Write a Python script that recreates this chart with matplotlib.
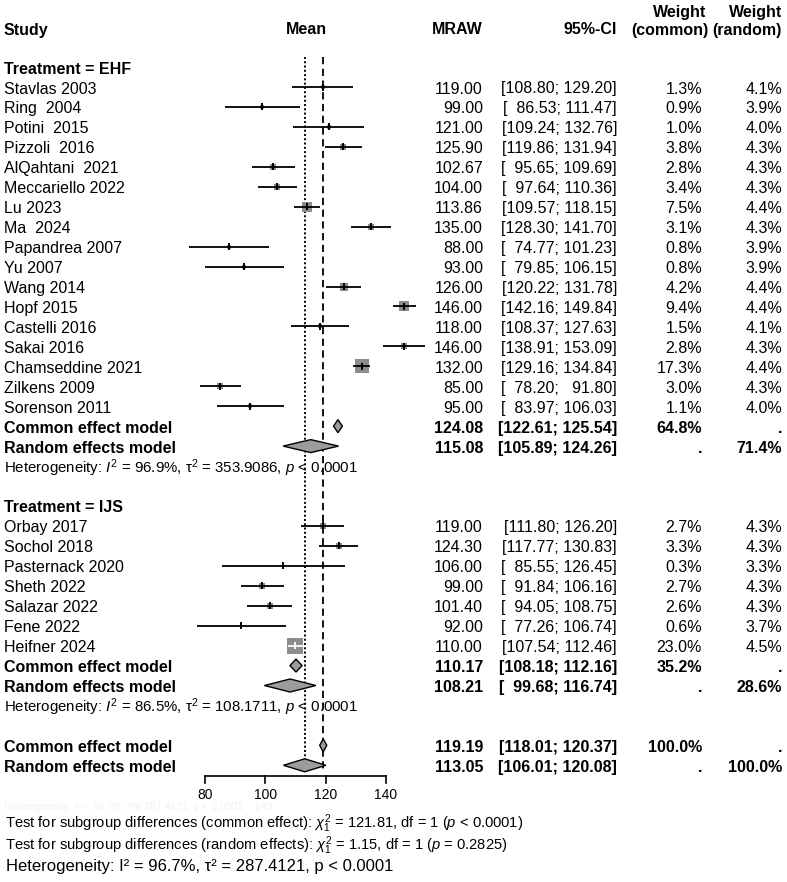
import matplotlib
matplotlib.use("agg")
import matplotlib.pyplot as plt
from matplotlib.patches import Polygon
import numpy as np

plt.rcParams["font.family"] = ["Liberation Sans", "DejaVu Sans"]
plt.rcParams["mathtext.fontset"] = "custom"
plt.rcParams["mathtext.rm"] = "Liberation Sans"
plt.rcParams["mathtext.it"] = "Liberation Sans:italic"
plt.rcParams["mathtext.bf"] = "Liberation Sans:bold"

# ---- data ----
ehf_names = ["Stavlas 2003", "Ring  2004", "Potini  2015", "Pizzoli  2016", "AlQahtani  2021",
             "Meccariello 2022", "Lu 2023", "Ma  2024", "Papandrea 2007", "Yu 2007", "Wang 2014",
             "Hopf 2015", "Castelli 2016", "Sakai 2016", "Chamseddine 2021", "Zilkens 2009",
             "Sorenson 2011"]
ehf_mean = [119.00, 99.00, 121.00, 125.90, 102.67, 104.00, 113.86, 135.00, 88.00, 93.00,
            126.00, 146.00, 118.00, 146.00, 132.00, 85.00, 95.00]
ehf_lower = [108.80, 86.53, 109.24, 119.86, 95.65, 97.64, 109.57, 128.30, 74.77, 79.85,
             120.22, 142.16, 108.37, 138.91, 129.16, 78.20, 83.97]
ehf_upper = [129.20, 111.47, 132.76, 131.94, 109.69, 110.36, 118.15, 141.70, 101.23, 106.15,
             131.78, 149.84, 127.63, 153.09, 134.84, 91.80, 106.03]
ehf_w_common = [1.3, 0.9, 1.0, 3.8, 2.8, 3.4, 7.5, 3.1, 0.8, 0.8, 4.2, 9.4, 1.5, 2.8, 17.3, 3.0, 1.1]
ehf_w_random = [4.1, 3.9, 4.0, 4.3, 4.3, 4.3, 4.4, 4.3, 3.9, 3.9, 4.4, 4.4, 4.1, 4.3, 4.4, 4.3, 4.0]
ehf_common = [124.08, 122.61, 125.54, 64.8, None]
ehf_random = [115.08, 105.89, 124.26, None, 71.4]
ehf_het = r"Heterogeneity: $I^2$ = 96.9%, $\mathrm{\tau}^2$ = 353.9086, $p$ < 0.0001"

ijs_names = ["Orbay 2017", "Sochol 2018", "Pasternack 2020", "Sheth 2022", "Salazar 2022",
             "Fene 2022", "Heifner 2024"]
ijs_mean = [119.00, 124.30, 106.00, 99.00, 101.40, 92.00, 110.00]
ijs_lower = [111.80, 117.77, 85.55, 91.84, 94.05, 77.26, 107.54]
ijs_upper = [126.20, 130.83, 126.45, 106.16, 108.75, 106.74, 112.46]
ijs_w_common = [2.7, 3.3, 0.3, 2.7, 2.6, 0.6, 23.0]
ijs_w_random = [4.3, 4.3, 3.3, 4.3, 4.3, 3.7, 4.5]
ijs_common = [110.17, 108.18, 112.16, 35.2, None]
ijs_random = [108.21, 99.68, 116.74, None, 28.6]
ijs_het = r"Heterogeneity: $I^2$ = 86.5%, $\mathrm{\tau}^2$ = 108.1711, $p$ < 0.0001"

all_common = [119.19, 118.01, 120.37, 100.0, None]
all_random = [113.05, 106.01, 120.08, None, 100.0]

axis_ticks = [80, 100, 120, 140]
test_common = r"Test for subgroup differences (common effect): $\chi^2_1$ = 121.81, df = 1 ($p$ < 0.0001)"
test_random = r"Test for subgroup differences (random effects): $\chi^2_1$ = 1.15, df = 1 ($p$ = 0.2825)"
overall_het = "Heterogeneity: I² = 96.7%, τ² = 287.4121, p < 0.0001"

# ---- layout (pixels) ----
W, H = 787, 882
PX_PER_UNIT = 181 / 60.0
X80 = 205
ROW0, ROW_H = 87, 19.95
FS = 11.5
SQ_GRAY = "#8c8c8c"
DIA_GRAY = "#9c9c9c"
FIG_SPACE = "\u2007"


def row_y(r):
    return ROW0 + ROW_H * r


def fmt_ci(lo, hi):
    a = f"{lo:.2f}".rjust(6, FIG_SPACE)
    b = f"{hi:.2f}".rjust(6, FIG_SPACE)
    return f"[{a}; {b}]"


def fmt_w(w):
    return "." if w is None else f"{w:.1f}%"


fig = plt.figure(figsize=(W / 100, H / 100), dpi=100)
ax = fig.add_axes([0, 0, 1, 1])
ax.set_xlim(80 - X80 / PX_PER_UNIT, 80 + (W - X80) / PX_PER_UNIT)
ax.set_ylim(H, 0)
ax.axis("off")
tx = fig.add_axes([0, 0, 1, 1])
tx.set_xlim(0, W)
tx.set_ylim(H, 0)
tx.axis("off")
tx.patch.set_alpha(0)

COL_NAME, COL_MRAW, COL_CI, COL_WC, COL_WR = 4, 483, 617, 702, 782


def text_row(y, name, mean, lo, hi, wc, wr, bold=False):
    fw = "bold" if bold else "normal"
    ty = y + 2
    tx.text(COL_NAME, ty, name, ha="left", va="center", fontsize=FS, fontweight=fw)
    tx.text(COL_MRAW, ty, f"{mean:.2f}", ha="right", va="center", fontsize=FS, fontweight=fw)
    tx.text(COL_CI, ty, fmt_ci(lo, hi), ha="right", va="center", fontsize=FS, fontweight=fw)
    tx.text(COL_WC, ty, fmt_w(wc), ha="right", va="center", fontsize=FS, fontweight=fw)
    tx.text(COL_WR, ty, fmt_w(wr), ha="right", va="center", fontsize=FS, fontweight=fw)


def diamond(y, est, lo, hi):
    h = 6.5
    poly = Polygon([(lo, y), (est, y - h), (hi, y), (est, y + h)], closed=True,
                   facecolor=DIA_GRAY, edgecolor="black", lw=1.0, zorder=5)
    ax.add_patch(poly)


def study_rows(r0, names, mean, lower, upper, wc, wr):
    for i in range(len(names)):
        y = row_y(r0 + i)
        side_px = 3.54 * np.sqrt(wc[i])
        ax.scatter([mean[i]], [y], marker="s", s=(side_px * 0.72) ** 2, color=SQ_GRAY,
                   linewidths=0, zorder=3)
        inside = (upper[i] - lower[i]) * PX_PER_UNIT < side_px
        lc = "white" if inside else "black"
        ax.plot([lower[i], upper[i]], [y, y], color=lc, lw=1.3, zorder=4, solid_capstyle="butt")
        ax.plot([mean[i], mean[i]], [y - 2.5, y + 2.5], color=lc, lw=1.4, zorder=4)
        text_row(y, names[i], mean[i], lower[i], upper[i], wc[i], wr[i])


def pooled(r, label, vals):
    y = row_y(r)
    diamond(y, vals[0], vals[1], vals[2])
    text_row(y, label, vals[0], vals[1], vals[2], vals[3], vals[4], bold=True)


# headers
tx.text(COL_NAME, 30, "Study", ha="left", va="center", fontsize=FS, fontweight="bold")
tx.text(306, 30, "Mean", ha="center", va="center", fontsize=FS, fontweight="bold")
tx.text(COL_MRAW, 30, "MRAW", ha="right", va="center", fontsize=FS, fontweight="bold")
tx.text(COL_CI, 30, "95%-CI", ha="right", va="center", fontsize=FS, fontweight="bold")
tx.text(706, 12, "Weight", ha="right", va="center", fontsize=FS, fontweight="bold")
tx.text(708, 31, "(common)", ha="right", va="center", fontsize=FS, fontweight="bold")
tx.text(COL_WR, 12, "Weight", ha="right", va="center", fontsize=FS, fontweight="bold")
tx.text(COL_WR, 31, "(random)", ha="right", va="center", fontsize=FS, fontweight="bold")

# reference lines
ax.plot([all_random[0]] * 2, [57, 772], color="black", lw=1.4, ls=(0, (1, 1.2)), zorder=1)
ax.plot([all_common[0]] * 2, [57, 772], color="black", lw=1.3, ls=(0, (4, 2.5)), zorder=1)

# EHF subgroup
tx.text(COL_NAME, row_y(-1) + 2, "Treatment = EHF", ha="left", va="center", fontsize=FS,
        fontweight="bold")
study_rows(0, ehf_names, ehf_mean, ehf_lower, ehf_upper, ehf_w_common, ehf_w_random)
n1 = len(ehf_names)
pooled(n1, "Common effect model", ehf_common)
pooled(n1 + 1, "Random effects model", ehf_random)
tx.text(COL_NAME, row_y(n1 + 2) + 2, ehf_het, ha="left", va="center", fontsize=10.8)

# IJS subgroup
r_ijs = n1 + 4
tx.text(COL_NAME, row_y(r_ijs) + 2, "Treatment = IJS", ha="left", va="center", fontsize=FS,
        fontweight="bold")
study_rows(r_ijs + 1, ijs_names, ijs_mean, ijs_lower, ijs_upper, ijs_w_common, ijs_w_random)
n2 = r_ijs + 1 + len(ijs_names)
pooled(n2, "Common effect model", ijs_common)
pooled(n2 + 1, "Random effects model", ijs_random)
tx.text(COL_NAME, row_y(n2 + 2) + 2, ijs_het, ha="left", va="center", fontsize=10.8)

# overall
pooled(n2 + 4, "Common effect model", all_common)
pooled(n2 + 5, "Random effects model", all_random)

# x axis
y_ax = 776
ax.plot([axis_ticks[0], axis_ticks[-1]], [y_ax, y_ax], color="black", lw=1.2)
for t in axis_ticks:
    ax.plot([t, t], [y_ax, y_ax + 7], color="black", lw=1.2)
    ax.text(t, y_ax + 19, str(t), ha="center", va="center", fontsize=10)

# faint leftover text and bottom notes
tx.text(COL_NAME, 807, "Heterogeneity: I² = 96.7%, τ²θ 287.4121, p < 0.0001    140",
        ha="left", va="center", fontsize=7.5, color="#f1f1f1", zorder=0)
tx.text(5, 824, test_common, ha="left", va="center", fontsize=10.6)
tx.text(5, 846, test_random, ha="left", va="center", fontsize=10.6)
tx.text(6, 866, overall_het, ha="left", va="center", fontsize=12)

fig.savefig("out.png", dpi=100)
